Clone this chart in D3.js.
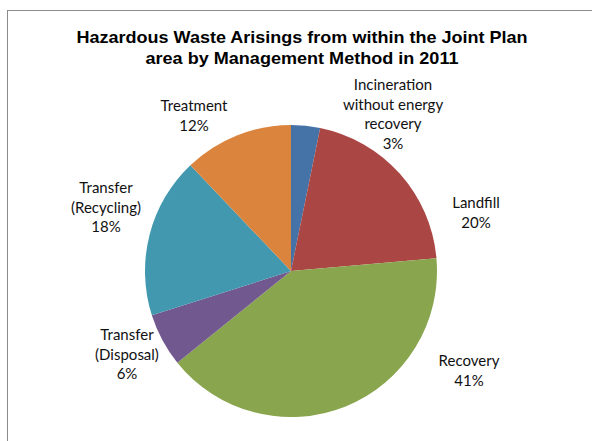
<!DOCTYPE html>
<html><head><meta charset="utf-8">
<script src="https://cdn.jsdelivr.net/npm/d3@7"></script>
<style>body{margin:0;background:#fff}svg{display:block}</style>
</head><body>
<script>
const categories = ["Incineration without energy recovery","Landfill","Recovery","Transfer (Disposal)","Transfer (Recycling)","Treatment"];
const labelLines = [["Incineration","without energy","recovery"],["Landfill"],["Recovery"],["Transfer","(Disposal)"],["Transfer","(Recycling)"],["Treatment"]];
const values = [3.2, 20.4, 40.6, 5.9, 17.8, 12.1];
const colors = ["#4572A7","#AA4643","#89A54E","#71588F","#4198AF","#DB843D"];
const titleLines = ["Hazardous Waste Arisings from within the Joint Plan","area by Management Method in 2011"];
const titleWidths = [451, 313];
// label anchor positions (centre x, first-line centre y)
const labelPos = [[393,85],[476,203],[469,361],[127,335],[106,188],[194,106]];

const W=592,H=441;
const svg=d3.select("body").append("svg").attr("width",W).attr("height",H);
svg.append("rect").attr("x",7.5).attr("y",10.5).attr("width",W+20).attr("height",H+20)
  .attr("fill","#fff").attr("stroke","#8c8c8c").attr("stroke-width",1);

svg.selectAll("text.title").data(titleLines).join("text").attr("class","title")
  .attr("x",302).attr("y",(d,i)=>43+i*20.5).attr("text-anchor","middle")
  .attr("font-family","Liberation Sans, Arial, sans-serif").attr("font-weight","bold")
  .attr("font-size",17).attr("fill","#000")
  .attr("textLength",(d,i)=>titleWidths[i]).attr("lengthAdjust","spacingAndGlyphs")
  .text(d=>d);

const cx=291, cy=271, r=146;
const pie=d3.pie().sort(null).value(d=>d)(values);
const arc=d3.arc().innerRadius(0).outerRadius(r);
const g=svg.append("g").attr("transform",`translate(${cx},${cy})`);
g.selectAll("path").data(pie).join("path").attr("d",arc).attr("fill",(d,i)=>colors[i]);

const fmt=v=>Math.round(v)+"%";
labelLines.forEach((lines,i)=>{
  const all=lines.concat([fmt(values[i])]);
  const t=svg.append("text").attr("text-anchor","middle")
    .attr("font-family","Lato, Calibri, sans-serif").attr("font-size",15).attr("fill","#111");
  all.forEach((s,j)=>{
    t.append("tspan").attr("x",labelPos[i][0]).attr("y",labelPos[i][1]+5+j*19.7).text(s);
  });
});
</script>
</body></html>
